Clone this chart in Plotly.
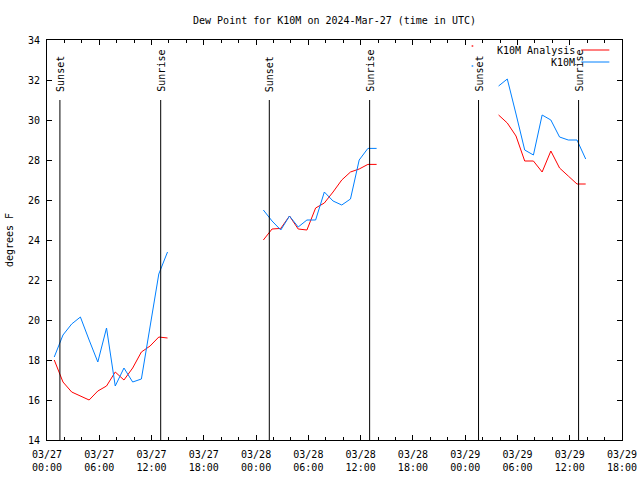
import plotly.graph_objects as go
import pandas as pd

# ---- data ----
seg_starts = ["2024-03-27 00:50", "2024-03-28 00:50", "2024-03-29 00:50", "2024-03-29 03:50"]

analysis_seg1 = [18.0, 16.9, 16.4, 16.2, 16.0, 16.45, 16.7, 17.4, 17.0, 17.6, 18.4, 18.7, 19.15, 19.1]
obs_seg1 = [18.15, 19.25, 19.8, 20.15, 19.0, 17.9, 19.6, 16.7, 17.6, 16.9, 17.05, 19.6, 22.3, 23.4]

analysis_seg2 = [24.0, 24.55, 24.58, 25.2, 24.55, 24.5, 25.6, 25.85, 26.4, 27.0, 27.4, 27.55, 27.78, 27.78]
obs_seg2 = [25.5, 24.95, 24.5, 25.2, 24.65, 25.0, 25.0, 26.4, 25.95, 25.75, 26.05, 28.0, 28.58, 28.58]

analysis_seg_iso = [33.7]
obs_seg_iso = [32.7]

analysis_seg3 = [30.25, 29.85, 29.2, 27.95, 27.95, 27.4, 28.45, 27.6, 27.2, 26.8, 26.8]
obs_seg3 = [31.7, 32.05, 30.3, 28.5, 28.25, 30.25, 30.0, 29.15, 29.0, 29.0, 28.05]

sunset_times = ["2024-03-27 01:29", "2024-03-28 01:31", "2024-03-29 01:32"]
sunrise_times = ["2024-03-27 13:03", "2024-03-28 13:02", "2024-03-29 13:01"]

title_text = "Dew Point for K10M on 2024-Mar-27 (time in UTC)"
series_names = ["K10M Analysis", "K10M"]
series_colors = ["#ff0000", "#0080ff"]

# ---- build series with gaps ----
def build(segments):
    xs, ys = [], []
    for start, vals in zip(seg_starts, segments):
        times = pd.date_range(start, periods=len(vals), freq="h")
        if xs:
            xs.append(None)
            ys.append(None)
        xs.extend(list(times))
        ys.extend(vals)
    return xs, ys

def iso_sizes(ys):
    sizes = []
    for i, v in enumerate(ys):
        prev_none = i == 0 or ys[i - 1] is None
        next_none = i == len(ys) - 1 or ys[i + 1] is None
        sizes.append(2 if (v is not None and prev_none and next_none) else 0)
    return sizes

FONT = "DejaVu Sans Mono"
fig = go.Figure()
for name, color, segs in [
    (series_names[0], series_colors[0], [analysis_seg1, analysis_seg2, analysis_seg_iso, analysis_seg3]),
    (series_names[1], series_colors[1], [obs_seg1, obs_seg2, obs_seg_iso, obs_seg3]),
]:
    xs, ys = build(segs)
    fig.add_trace(go.Scatter(
        x=xs, y=ys, mode="lines+markers", name=name,
        line=dict(color=color, width=1),
        marker=dict(size=iso_sizes(ys), color=color, line=dict(width=0)),
        connectgaps=False, showlegend=False,
    ))

shapes = []
annotations = []
for label, times in [("Sunset", sunset_times), ("Sunrise", sunrise_times)]:
    for t in times:
        shapes.append(dict(type="line", xref="x", yref="y", x0=t, x1=t, y0=14, y1=31,
                           line=dict(color="black", width=1)))
        annotations.append(dict(x=t, y=31, xref="x", yref="y", text=label, showarrow=False,
                                textangle=-90, yanchor="bottom", xanchor="center", yshift=6,
                                font=dict(family=FONT, size=10, color="black")))

# legend (gnuplot style: text then sample line)
for i, (name, color) in enumerate(zip(series_names, series_colors)):
    ypos = 0.975 - i * 0.03
    annotations.append(dict(x=0.921, y=ypos, xref="paper", yref="paper", text=name,
                            showarrow=False, xanchor="right", yanchor="middle",
                            font=dict(family=FONT, size=10, color="black")))
    shapes.append(dict(type="line", xref="paper", yref="paper", x0=0.929, x1=0.978,
                       y0=ypos, y1=ypos, line=dict(color=color, width=1)))

fig.update_layout(
    width=640, height=480,
    margin=dict(l=47, r=18, t=40, b=40, autoexpand=False),
    paper_bgcolor="white", plot_bgcolor="white",
    font=dict(family=FONT, size=10, color="black"),
    title=dict(text=title_text, x=0.5, xref="paper", y=0.958, yref="container",
               xanchor="center", yanchor="middle", font=dict(family=FONT, size=10, color="black")),
    shapes=shapes, annotations=annotations,
    showlegend=False,
)
fig.update_xaxes(
    type="date", range=["2024-03-27 00:00", "2024-03-29 18:00"],
    tick0="2024-03-27 00:00", dtick=6 * 3600 * 1000,
    tickformat="%m/%d<br>%H:%M",
    ticks="inside", ticklen=5, tickcolor="black",
    minor=dict(dtick=2 * 3600 * 1000, ticks="inside", ticklen=3, tickcolor="black", showgrid=False),
    showline=True, linecolor="black", linewidth=1, mirror="allticks",
    showgrid=False, zeroline=False, automargin=False, ticklabelstandoff=5,
    tickfont=dict(family=FONT, size=10, color="black"),
)
fig.update_yaxes(
    range=[14, 34], tick0=14, dtick=2,
    ticks="inside", ticklen=5, tickcolor="black",
    showline=True, linecolor="black", linewidth=1, mirror="allticks",
    showgrid=False, zeroline=False, automargin=False, ticklabelstandoff=4,
    title=dict(text="degrees F", font=dict(family=FONT, size=10, color="black"), standoff=12),
    tickfont=dict(family=FONT, size=10, color="black"),
)

fig.write_html("out.html", config={"displayModeBar": False},
               post_script="document.body.style.margin='0';")
